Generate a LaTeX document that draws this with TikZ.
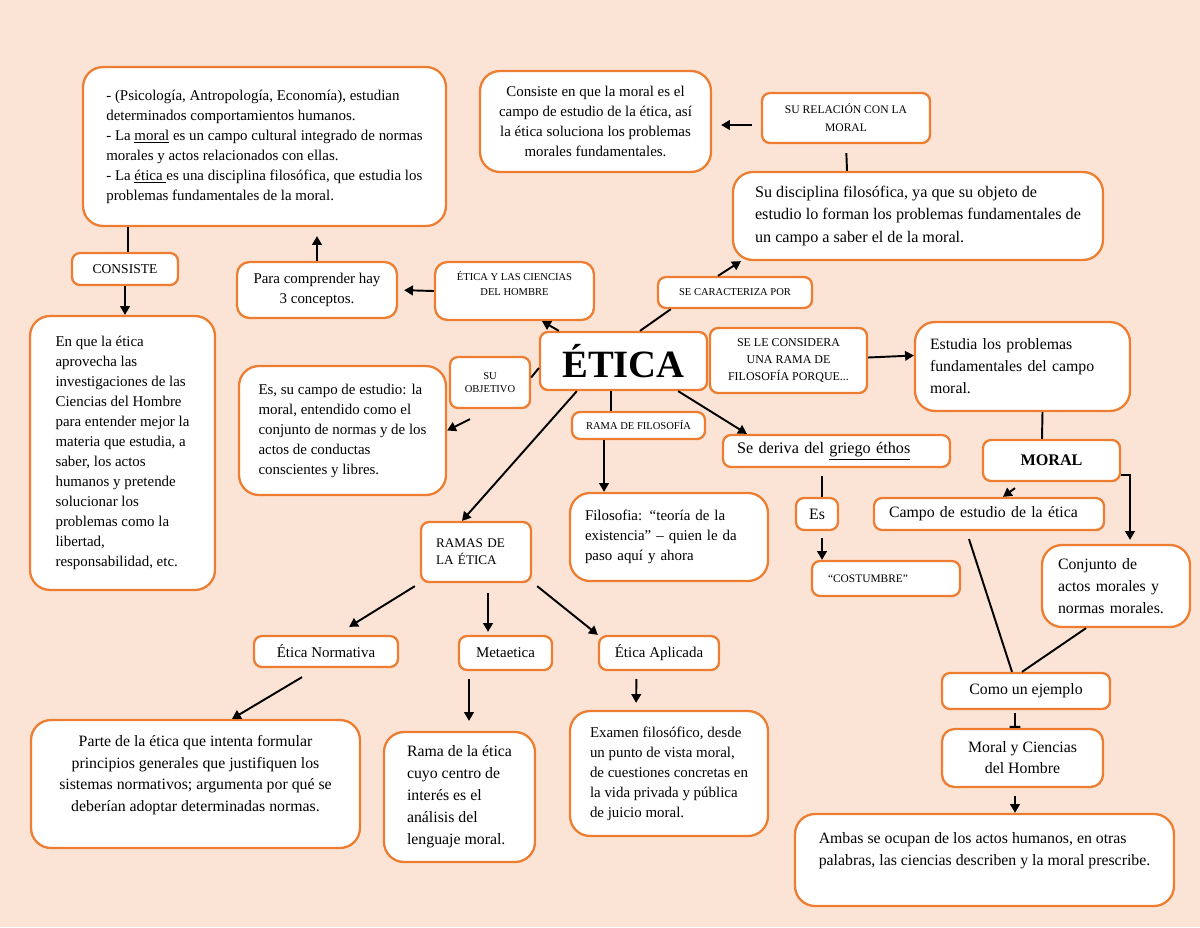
\documentclass[tikz,border=0pt]{standalone}
\usepackage{fontspec}
\setmainfont{Liberation Serif}
\usetikzlibrary{arrows.meta}
\definecolor{fondo}{HTML}{FBE4D5}
\definecolor{naranja}{HTML}{ED7D31}
\newcommand{\fs}[2]{\fontsize{#1}{#2}\selectfont}

\begin{document}
\begin{tikzpicture}[x=0.02cm, y=-0.02cm,
    caja/.style={draw=naranja, line width=1.3pt, fill=white, rounded corners=0.4cm,
      inner sep=0pt, align=center, font=\fs{8.5}{11.4}},
    etiq/.style={caja, rounded corners=0.16cm},
    flecha/.style={-{Triangle[length=5pt,width=5.5pt]}, line width=1.1pt},
    linea/.style={line width=1.1pt}]

    \fill[fondo] (0,0) rectangle (1200,927);
    \useasboundingbox (0,0) rectangle (1200,927);

    % cajas
    \node[caja, minimum width=7.26cm, minimum height=3.18cm, align=left] (tres) at (264.5,146.5) {- (Psicología, Antropología, Economía), estudian\\determinados comportamientos humanos.\\- La \underline{moral} es un campo cultural integrado de normas\\morales y actos relacionados con ellas.\\- La \underline{ética }es una disciplina filosófica, que estudia los\\problemas fundamentales de la moral.};
    \node[etiq, minimum width=2.12cm, minimum height=0.64cm, font=\fs{7.7}{9}] (consiste) at (125,269) {CONSISTE};
    \node[caja, minimum width=3.7cm, minimum height=5.48cm, align=left] (aprovecha) at (122.5,453) {En que la ética\\aprovecha las\\investigaciones de las\\Ciencias del Hombre\\para entender mejor la\\materia que estudia, a\\saber, los actos\\humanos y pretende\\solucionar los\\problemas como la\\libertad,\\responsabilidad, etc.};
    \node[etiq, rounded corners=0.25cm, minimum width=3.2cm, minimum height=1.12cm] (comprender) at (317,290) {Para comprender hay\\3 conceptos.};
    \node[etiq, rounded corners=0.25cm, minimum width=3.18cm, minimum height=1.16cm, font=\fs{6}{8.5}] (ciencias) at (514.5,291) {ÉTICA Y LAS CIENCIAS\\DEL HOMBRE\\ \mbox{}};
    \node[caja, minimum width=4.62cm, minimum height=2.02cm] (consisteen) at (595.5,121.5) {Consiste en que la moral es el\\campo de estudio de la ética, así\\la ética soluciona los problemas\\morales fundamentales.};
    \node[etiq, minimum width=3.36cm, minimum height=1.0cm, font=\fs{6.6}{10.2}] (relacion) at (846,118) {SU RELACIÓN CON LA\\MORAL};
    \node[caja, minimum width=7.4cm, minimum height=1.76cm, align=left, font=\fs{9.2}{12.8}] (disciplina) at (918,216) {Su disciplina filosófica, ya que su objeto de\\estudio lo forman los problemas fundamentales de\\un campo a saber el de la moral.};
    \node[etiq, minimum width=3.08cm, minimum height=0.62cm, font=\fs{6}{8}] (caracteriza) at (735,292.5) {SE CARACTERIZA POR};
    \node[etiq, minimum width=3.34cm, minimum height=1.16cm, font=\fs{22}{26}\bfseries] (etica) at (623.5,361) {ÉTICA};
    \node[etiq, minimum width=1.6cm, minimum height=1.02cm, font=\fs{6}{7.5}] (objetivo) at (490,382.5) {SU\\OBJETIVO};
    \node[caja, minimum width=4.14cm, minimum height=2.58cm, align=left] (campo) at (342.5,430.5) {Es, su campo de estudio: la\\moral, entendido como el\\conjunto de normas y de los\\actos de conductas\\conscientes y libres.};
    \node[etiq, minimum width=3.14cm, minimum height=1.3cm, font=\fs{6.8}{9.7}] (considera) at (788.5,360.5) {SE LE CONSIDERA\\UNA RAMA DE\\FILOSOFÍA PORQUE...};
    \node[caja, minimum width=4.3cm, minimum height=1.78cm, text width=3.7cm, inner xsep=0.3cm, align=left, font=\fs{9}{12.5}] (estudia) at (1022.5,366.5) {Estudia los problemas\\fundamentales del campo\\moral.};
    \node[etiq, minimum width=2.66cm, minimum height=0.54cm, font=\fs{6}{8}] (ramafil) at (638.5,425.5) {RAMA DE FILOSOFÍA};
    \node[etiq, minimum width=4.54cm, minimum height=0.64cm, text width=3.98cm, inner xsep=0.28cm, align=left, font=\fs{9.2}{12}] (deriva) at (836.5,451) {Se deriva del \underline{griego éthos}};
    \node[etiq, minimum width=2.74cm, minimum height=0.82cm, font=\fs{9.2}{12}\bfseries] (moral) at (1051.5,460.5) {MORAL};
    \node[caja, minimum width=3.96cm, minimum height=1.76cm, text width=3.36cm, inner xsep=0.3cm, align=left] (filosofia) at (669,537) {Filosofia: “teoría de la\\existencia” – quien le da\\paso aquí y ahora};
    \node[etiq, minimum width=0.84cm, minimum height=0.64cm, font=\fs{9}{12}] (es) at (817,514) {Es};
    \node[etiq, minimum width=4.6cm, minimum height=0.64cm, text width=4.0cm, inner xsep=0.3cm, align=left, font=\fs{9}{12}] (campoest) at (989,514) {Campo de estudio de la ética};
    \node[etiq, minimum width=2.96cm, minimum height=0.7cm, text width=2.32cm, inner xsep=0.32cm, align=left, font=\fs{6.5}{8}] (costumbre) at (886,578.5) {“COSTUMBRE”};
    \node[caja, minimum width=2.96cm, minimum height=1.64cm, text width=2.32cm, inner xsep=0.32cm, align=left, font=\fs{9}{12.5}] (conjunto) at (1116,586) {Conjunto de\\actos morales y\\normas morales.};
    \node[etiq, minimum width=2.2cm, minimum height=1.2cm, text width=1.6cm, inner xsep=0.3cm, align=left, font=\fs{7.5}{9.7}] (ramas) at (476,552) {RAMAS DE\\LA ÉTICA};
    \node[etiq, minimum width=2.88cm, minimum height=0.62cm] (normativa) at (326,651.5) {Ética Normativa};
    \node[etiq, minimum width=1.86cm, minimum height=0.68cm] (metaetica) at (505.5,653) {Metaetica};
    \node[etiq, minimum width=2.4cm, minimum height=0.68cm] (aplicada) at (659,653) {Ética Aplicada};
    \node[caja, minimum width=6.58cm, minimum height=2.56cm, font=\fs{9}{12.2}] (parte) at (195.5,784) {Parte de la ética que intenta formular\\principios generales que justifiquen los\\sistemas normativos; argumenta por qué se\\deberían adoptar determinadas normas.\\ \mbox{}};
    \node[caja, minimum width=3.02cm, minimum height=2.6cm, align=left, font=\fs{9}{12.5}] (metadef) at (459.5,797) {Rama de la ética\\cuyo centro de\\interés es el\\análisis del\\lenguaje moral.};
    \node[caja, minimum width=3.96cm, minimum height=2.5cm, align=left] (examen) at (669,773.5) {Examen filosófico, desde\\un punto de vista moral,\\de cuestiones concretas en\\la vida privada y pública\\de juicio moral.};
    \node[etiq, minimum width=3.36cm, minimum height=0.72cm, font=\fs{9}{12}] (ejemplo) at (1026,691) {Como un ejemplo};
    \node[etiq, rounded corners=0.25cm, minimum width=3.22cm, minimum height=1.16cm, font=\fs{9}{12}] (moralcien) at (1022.5,758) {Moral y Ciencias\\del Hombre};
    \node[caja, minimum width=7.58cm, minimum height=1.84cm, align=left, font=\fs{9}{12.5}] (ambas) at (984.5,860) {Ambas se ocupan de los actos humanos, en otras\\palabras, las ciencias describen y la moral prescribe.\\ \mbox{}};

    % conexiones
    \draw[linea] ([xshift=0.06cm]consiste.north) -- ([xshift=-2.73cm]tres.south);
    \draw[flecha] (consiste.south) -- ([xshift=0.05cm]aprovecha.north);
    \draw[flecha, shorten >=0.18cm] (comprender.north) -- ([xshift=1.05cm]tres.south);
    \draw[flecha, shorten >=0.12cm] (ciencias.west) -- (comprender.east);
    \draw[flecha] ([xshift=0.4cm]etica.north west) -- ([xshift=0.55cm]ciencias.south);
    \draw[linea] ([xshift=0.33cm]etica.north) -- ([xshift=0.28cm]caracteriza.south west);
    \draw[flecha] ([xshift=-0.34cm]caracteriza.north) -- ([xshift=0.18cm]disciplina.south west);
    \draw[flecha, shorten <=0.18cm, shorten >=0.18cm] ([yshift=-0.14cm]relacion.west) -- ([yshift=-0.07cm]consisteen.east);
    \draw[linea, shorten <=0.18cm] (relacion.south) -- ([xshift=-1.42cm]disciplina.north);
    \draw[linea] ([yshift=-0.14cm]etica.west) -- ([yshift=0.1cm]objetivo.east);
    \draw[flecha] ([xshift=-0.4cm,yshift=-0.2cm]objetivo.south) -- (campo.east);
    \draw[flecha] ([yshift=0.06cm]considera.east) -- ([yshift=0.22cm]estudia.west);
    \draw[linea] ([xshift=0.4cm]estudia.south) -- ([xshift=-0.19cm]moral.north);
    \draw[flecha] ([xshift=-0.73cm,yshift=-0.12cm]moral.south) -- ([xshift=0.28cm]campoest.north);
    \draw[flecha, shorten >=0.08cm] ([yshift=-0.29cm]moral.east) -| ([xshift=0.28cm]conjunto.north);
    \draw[linea] ([xshift=-0.4cm,yshift=-0.16cm]campoest.south) -- ([xshift=-0.28cm]ejemplo.north);
    \draw[linea] ([xshift=-0.6cm]conjunto.south) -- ([xshift=-0.08cm]ejemplo.north);
    \draw[-{Bar[width=6pt]}, line width=1.1pt, shorten <=0.06cm] ([xshift=-0.22cm]ejemplo.south) -- ([xshift=-0.15cm]moralcien.north);
    \draw[flecha, shorten <=0.16cm] ([xshift=-0.15cm]moralcien.south) -- ([xshift=0.61cm]ambas.north);
    \draw[flecha] ([xshift=-0.6cm]etica.south east) -- ([xshift=0.5cm]deriva.north west);
    \draw[linea] ([xshift=-0.25cm]etica.south) -- ([xshift=-0.55cm]ramafil.north);
    \draw[flecha] ([xshift=-0.69cm]ramafil.south) -- ([xshift=-1.3cm]filosofia.north);
    \draw[linea, shorten >=0.16cm] ([xshift=0.1cm]es.north) -- ([xshift=-0.29cm]deriva.south);
    \draw[flecha, shorten <=0.14cm] ([xshift=0.1cm]es.south) -- ([xshift=-1.28cm]costumbre.north);
    \draw[flecha] ([xshift=0.76cm]etica.south west) -- ([xshift=-0.28cm]ramas.north);
    \draw[flecha] ([xshift=-0.1cm,yshift=-0.06cm]ramas.south west) -- ([xshift=-1.0cm,yshift=0.16cm]normativa.north east);
    \draw[flecha, shorten <=0.2cm, shorten >=0.06cm] ([xshift=0.24cm]ramas.south) -- ([xshift=-0.35cm]metaetica.north);
    \draw[flecha] ([xshift=0.1cm,yshift=-0.06cm]ramas.south east) -- (aplicada.north west);
    \draw[flecha] ([xshift=-0.48cm,yshift=-0.18cm]normativa.south) -- ([xshift=0.73cm]parte.north);
    \draw[flecha, shorten <=0.16cm, shorten >=0.2cm] ([xshift=-0.73cm]metaetica.south) -- ([xshift=0.19cm]metadef.north);
    \draw[flecha, shorten <=0.16cm, shorten >=0.14cm] ([xshift=-0.45cm]aplicada.south) -- ([xshift=-0.66cm]examen.north);
\end{tikzpicture}
\end{document}
